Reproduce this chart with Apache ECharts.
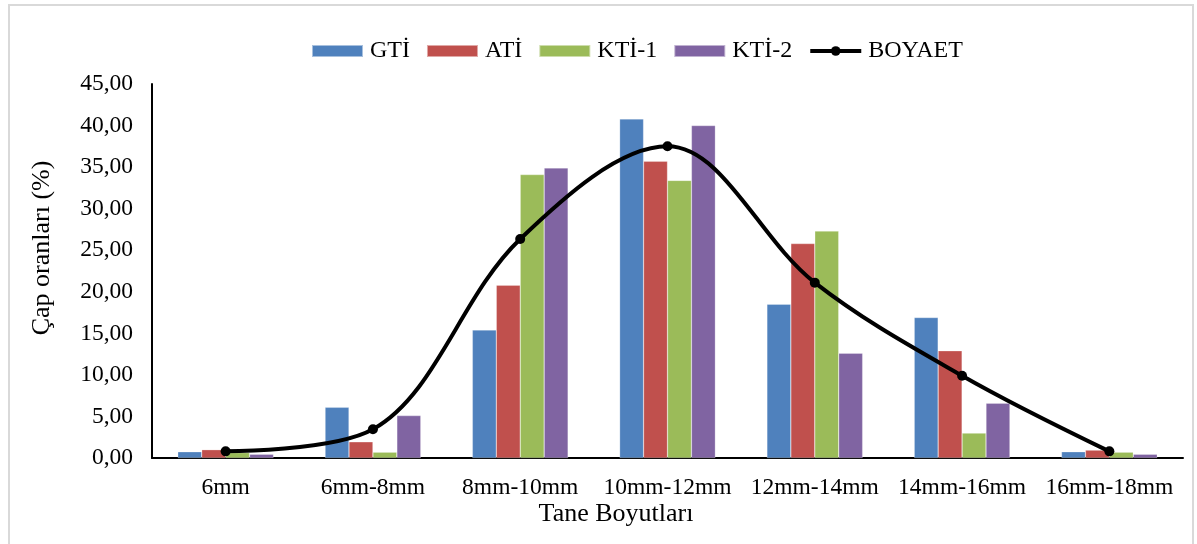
<!DOCTYPE html>
<html>
<head>
<meta charset="utf-8">
<script src="https://cdn.jsdelivr.net/npm/echarts@6/dist/echarts.min.js"></script>
<style>
html,body{margin:0;padding:0;background:#fff;}
#c{width:1197px;height:544px;}
</style>
</head>
<body>
<div id="c"></div>
<script>
const categories = ["6mm","6mm-8mm","8mm-10mm","10mm-12mm","12mm-14mm","14mm-16mm","16mm-18mm"];
const gti    = [0.75, 6.1, 15.4, 40.8, 18.5, 16.9, 0.75];
const ati    = [1.0, 1.95, 20.8, 35.7, 25.8, 12.9, 0.95];
const kti1   = [0.65, 0.7, 34.1, 33.4, 27.3, 3.0, 0.7];
const kti2   = [0.45, 5.1, 34.9, 40.0, 12.6, 6.6, 0.45];
const boyaet = [0.8, 3.45, 26.35, 37.5, 21.1, 9.9, 0.8];

const FONT = '"Liberation Serif", "Times New Roman", serif';
const chart = echarts.init(document.getElementById('c'), null, {renderer:'canvas'});
const bar = (name, data, color) => ({
  name, type:'bar', data, barGap:'0%', barCategoryGap:'35%',
  itemStyle:{color, borderColor:'rgba(255,255,255,0.5)', borderWidth:0.5},
  emphasis:{disabled:true}
});
chart.setOption({
  animation:false,
  textStyle:{fontFamily:FONT},
  grid:{left:152, right:14, top:84, bottom:86, containLabel:false},
  legend:{
    top:34, left:306,
    itemWidth:51, itemHeight:12, itemGap:16,
    textStyle:{fontFamily:FONT, fontSize:24, color:'#000', padding:[0,0,0,2]},
    data:[
      {name:'GTİ', icon:'rect'},{name:'ATİ', icon:'rect'},{name:'KTİ-1', icon:'rect'},{name:'KTİ-2', icon:'rect'},
      {name:'BOYAET', lineStyle:{width:4}}
    ]
  },
  xAxis:{
    type:'category', data:categories,
    axisLine:{lineStyle:{color:'#000', width:2}},
    axisTick:{show:false},
    axisLabel:{fontFamily:FONT, fontSize:23.5, color:'#000', margin:18, interval:0}
  },
  yAxis:{
    type:'value', min:0, max:45, interval:5,
    axisLine:{show:true, lineStyle:{color:'#000', width:2}},
    axisTick:{show:false},
    splitLine:{show:false},
    axisLabel:{fontFamily:FONT, fontSize:23.5, color:'#000', margin:19,
      formatter:v=>v.toFixed(2).replace('.',',')}
  },
  graphic:[
    {type:'rect', shape:{x:9, y:5, width:1184, height:560}, style:{fill:'none', stroke:'#d9d9d9', lineWidth:2}, silent:true},
    {type:'text', x:616, y:514, style:{text:'Tane Boyutları', font:'26px '+FONT, fill:'#000', align:'center', verticalAlign:'middle'}},
    {type:'text', x:42, y:248, rotation:Math.PI/2, style:{text:'Çap oranları (%)', font:'26px '+FONT, fill:'#000', align:'center', verticalAlign:'middle'}}
  ],
  series:[
    bar('GTİ', gti, '#4F81BD'),
    bar('ATİ', ati, '#C0504D'),
    bar('KTİ-1', kti1, '#9BBB59'),
    bar('KTİ-2', kti2, '#8064A2'),
    {name:'BOYAET', type:'line', data:boyaet, smooth:0.35,
     symbol:'circle', symbolSize:10,
     lineStyle:{color:'#000', width:4}, itemStyle:{color:'#000'},
     emphasis:{disabled:true}, z:5}
  ]
});
</script>
</body>
</html>
